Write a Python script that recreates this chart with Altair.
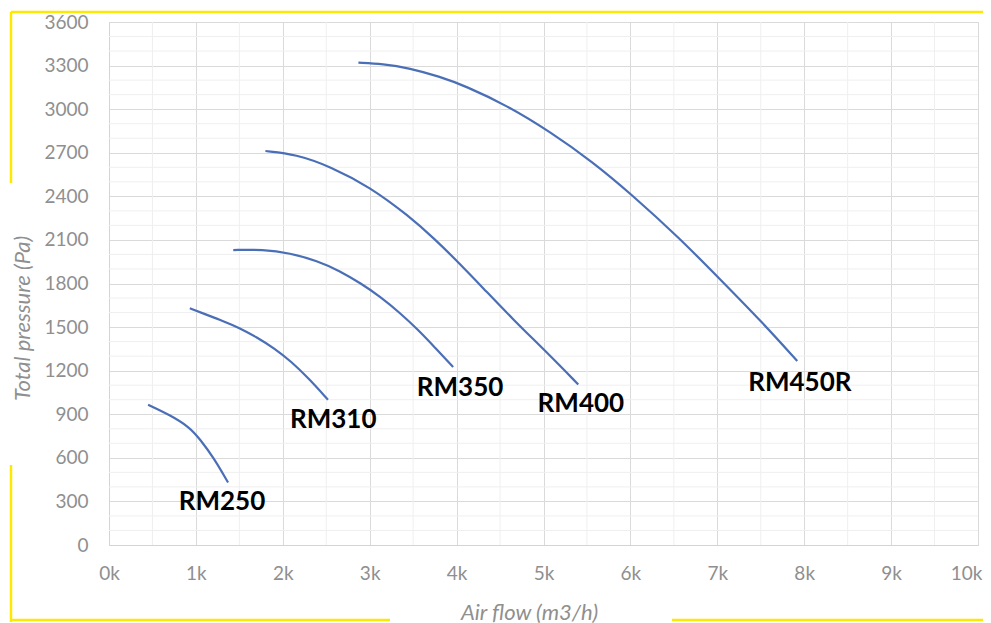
import altair as alt
import pandas as pd

# ---- data ----
rm250_x = [450, 700, 930, 1050, 1200, 1370]
rm250_y = [965, 895, 810, 725, 605, 430]

rm310_x = [930, 1100, 1300, 1500, 1700, 1900, 2100, 2300, 2520]
rm310_y = [1630, 1590, 1545, 1495, 1430, 1355, 1262, 1145, 1000]

rm350_x = [1430, 1770, 2080, 2400, 2650, 2900, 3120, 3350, 3550, 3750, 3960]
rm350_y = [2030, 2035, 2010, 1955, 1888, 1800, 1710, 1597, 1485, 1360, 1225]

rm400_x = [1800, 2150, 2550, 3000, 3450, 3750, 4000, 4300, 4650, 5040, 5400]
rm400_y = [2712, 2690, 2605, 2465, 2265, 2105, 1958, 1772, 1552, 1325, 1105]

rm450r_x = [2870, 3150, 3460, 3800, 4100, 4580, 5075, 5570, 6000, 6570, 7030, 7530, 7920]
rm450r_y = [3320, 3312, 3282, 3225, 3160, 3025, 2845, 2635, 2420, 2110, 1830, 1525, 1266]

label_names = ["RM250", "RM310", "RM350", "RM400", "RM450R"]
label_x = [1300, 2580, 4040, 5430, 7950]
label_y = [296, 860, 1080, 970, 1115]

x_major = list(range(0, 10001, 1000))
y_major = list(range(0, 3601, 300))
x_minor = [v for v in range(0, 10001, 500) if v % 1000 != 0]
y_minor = [v for v in range(0, 3601, 100) if v % 300 != 0]

# ---- tables ----
series = [("RM250", rm250_x, rm250_y), ("RM310", rm310_x, rm310_y),
          ("RM350", rm350_x, rm350_y), ("RM400", rm400_x, rm400_y),
          ("RM450R", rm450r_x, rm450r_y)]
rows = []
for name, xs, ys in series:
    for i, (a, b) in enumerate(zip(xs, ys)):
        rows.append({"model": name, "flow": a, "pressure": b, "order": i})
df = pd.DataFrame(rows)
labels = pd.DataFrame({"name": label_names, "flow": label_x, "pressure": label_y})

FONT = "Lato"
GRAY = "#8f8f8f"

xscale = alt.Scale(domain=[0, 10000], nice=False)
yscale = alt.Scale(domain=[0, 3600], nice=False)

xaxis = alt.Axis(values=x_major, labelExpr="datum.value/1000 + 'k'",
                 title="Air flow (m3/h)", titleFontStyle="italic",
                 titleFont=FONT, titleFontSize=22, titleFontWeight="normal",
                 titleColor=GRAY, titleX=420, titleY=67, titleBaseline="middle",
                 titleAlign="center",
                 labelFont=FONT, labelFontSize=19, labelColor=GRAY,
                 labelPadding=19, ticks=False, domainColor="#d4d4d4",
                 gridColor="#dadada", labelFlush=False,
                 labelAlign={"condition": {"test": "datum.value == 10000", "value": "right"},
                             "value": "center"},
                 labelOffset={"condition": {"test": "datum.value == 10000", "value": 4},
                              "value": 0})
yaxis = alt.Axis(values=y_major, format="d", title="Total pressure (Pa)",
                 titleFontStyle="italic", titleFont=FONT, titleFontSize=22,
                 titleFontWeight="normal", titleColor=GRAY,
                 titleX=-87, titleY=296, titleBaseline="middle",
                 titleAlign="center", titleAngle=270,
                 labelFont=FONT, labelFontSize=19, labelColor=GRAY,
                 labelPadding=21, ticks=False, domainColor="#d4d4d4",
                 gridColor="#dadada", labelFlush=False)

X = lambda f: alt.X(f, scale=xscale, axis=xaxis)
Y = lambda f: alt.Y(f, scale=yscale, axis=yaxis)

xminor = alt.Chart(pd.DataFrame({"flow": x_minor})).mark_rule(
    color="#efefef", strokeWidth=1).encode(x=X("flow:Q"))
yminor = alt.Chart(pd.DataFrame({"pressure": y_minor})).mark_rule(
    color="#efefef", strokeWidth=1).encode(y=Y("pressure:Q"))

lines = alt.Chart(df).mark_line(
    interpolate="basis", color="#4a6fb7", strokeWidth=2.2
).encode(
    x=X("flow:Q"), y=Y("pressure:Q"), detail="model:N", order="order:Q",
)

text = alt.Chart(labels).mark_text(
    font=FONT, fontSize=26, fontWeight="bold", color="#000000"
).encode(x=X("flow:Q"), y=Y("pressure:Q"), text="name:N")

one = pd.DataFrame({"a": [0]})
YEL = "#ffe800"
frame_top = alt.Chart(one).mark_rule(color=YEL, strokeWidth=2.5).encode(
    x=alt.value(-98), x2=alt.value(880), y=alt.value(-10))
frame_left1 = alt.Chart(one).mark_rule(color=YEL, strokeWidth=2.5).encode(
    x=alt.value(-98), y=alt.value(-10), y2=alt.value(161))
frame_left2 = alt.Chart(one).mark_rule(color=YEL, strokeWidth=2.5).encode(
    x=alt.value(-98), y=alt.value(443), y2=alt.value(600))
frame_bot1 = alt.Chart(one).mark_rule(color=YEL, strokeWidth=2.5).encode(
    x=alt.value(-98), x2=alt.value(281), y=alt.value(598))
frame_bot2 = alt.Chart(one).mark_rule(color=YEL, strokeWidth=2.5).encode(
    x=alt.value(563), x2=alt.value(880), y=alt.value(598))

chart = alt.layer(
    xminor, yminor, lines, text,
    frame_top, frame_left1, frame_left2, frame_bot1, frame_bot2
).properties(
    width=869, height=523,
    autosize=alt.AutoSizeParams(type="none"),
    padding={"left": 101, "top": 14, "right": 5, "bottom": 78},
).configure_view(stroke=None).configure(background="white")

chart.save("out.html", embed_options={"renderer": "svg", "actions": False})
